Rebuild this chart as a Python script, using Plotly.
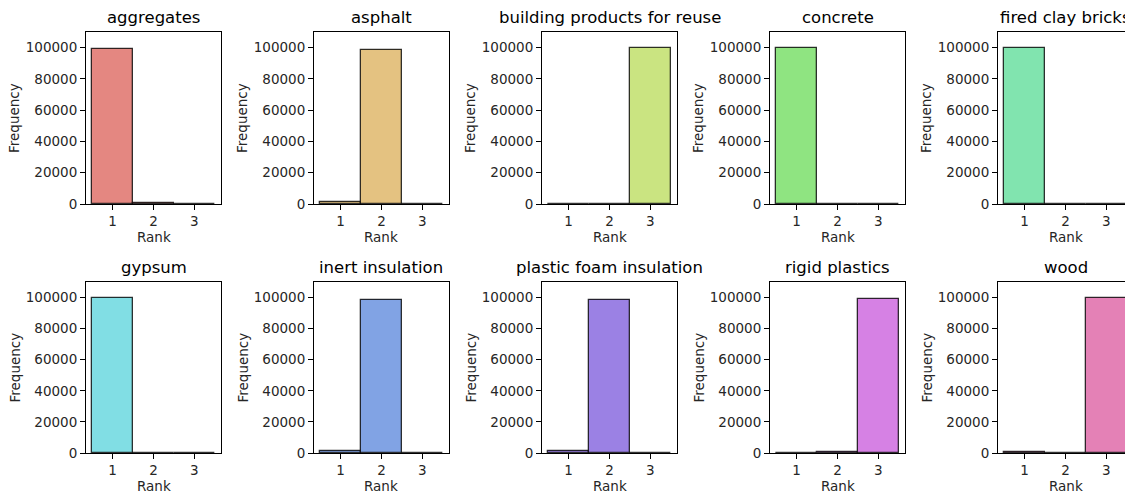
import colorsys
import plotly.graph_objects as go

# Rank frequencies (out of 100000 runs) for each material
materials = ["aggregates", "asphalt", "building products for reuse", "concrete",
             "fired clay bricks", "gypsum", "inert insulation",
             "plastic foam insulation", "rigid plastics", "wood"]
ranks = [1, 2, 3]
aggregates = [99000, 800, 200]
asphalt = [1400, 98500, 100]
building_products_for_reuse = [0, 200, 99800]
concrete = [99900, 100, 0]
fired_clay_bricks = [99900, 100, 0]
gypsum = [99800, 200, 0]
inert_insulation = [1400, 98500, 100]
plastic_foam_insulation = [1200, 98700, 100]
rigid_plastics = [300, 400, 99300]
wood = [400, 0, 99600]
frequencies = [aggregates, asphalt, building_products_for_reuse, concrete,
               fired_clay_bricks, gypsum, inert_insulation,
               plastic_foam_insulation, rigid_plastics, wood]
y_ticks = [0, 20000, 40000, 60000, 80000, 100000]

W, H = 1125, 494
FONT = "DejaVu Sans"
TXT = "#262626"


def hls_colors(n, h=0.01, l=0.6, s=0.65):
    out = []
    for i in range(n):
        hue = (i / n + h) % 1
        r, g, b = colorsys.hls_to_rgb(hue, l, s)
        out.append((r * 255, g * 255, b * 255))
    return out


def blend(rgb, alpha=0.75):
    return "rgb(%d,%d,%d)" % tuple(round(alpha * c + (1 - alpha) * 255) for c in rgb)


palette = hls_colors(len(materials))

# axes geometry in pixels
col_left = [86 + 228 * i for i in range(5)]
ax_w = 135
row_top = [32, 282]
row_bot = [204, 453]
x_unit = ax_w / 3.3

fig = go.Figure()
annotations = []
layout = {}
for k, name in enumerate(materials):
    r, c = divmod(k, 5)
    idx = "" if k == 0 else str(k + 1)
    left = col_left[c]
    right = min(left + ax_w, W)
    xmax = 0.35 + (right - left) / x_unit
    x0, x1 = left / W, right / W
    y0, y1 = 1 - row_bot[r] / H, 1 - row_top[r] / H

    fig.add_trace(go.Bar(
        x=ranks, y=frequencies[k], width=1,
        marker=dict(color=blend(palette[k]),
                    line=dict(color="rgba(0,0,0,0.8)", width=1.3)),
        xaxis="x" + idx, yaxis="y" + idx, showlegend=False,
    ))

    common = dict(showline=True, linecolor="black", linewidth=1.1,
                  ticks="outside", ticklen=5, tickwidth=1.1, tickcolor="black",
                  showgrid=False, zeroline=False,
                  tickfont=dict(family=FONT, size=13.5, color=TXT))
    layout["xaxis" + idx] = dict(common, domain=[x0, x1], anchor="y" + idx,
                                 range=[0.35, xmax], tickvals=ranks,
                                 mirror=True)
    layout["yaxis" + idx] = dict(common, domain=[y0, y1], anchor="x" + idx,
                                 range=[0, 110000], tickvals=y_ticks,
                                 tickformat="d", mirror=(c < 4))

    cx = (left + left + ax_w) / 2 / W
    annotations.append(dict(text=name, x=cx, y=y1, xref="paper", yref="paper",
                            xanchor="center", yanchor="bottom", yshift=3,
                            showarrow=False,
                            font=dict(family=FONT, size=16.5, color="black")))
    annotations.append(dict(text="Rank", x=cx, y=1 - (row_bot[r] + 33) / H,
                            xref="paper", yref="paper", xanchor="center",
                            yanchor="middle", showarrow=False,
                            font=dict(family=FONT, size=13.5, color=TXT)))
    annotations.append(dict(text="Frequency", x=(left - 72) / W,
                            y=(y0 + y1) / 2, xref="paper", yref="paper",
                            xanchor="center", yanchor="middle", textangle=-90,
                            showarrow=False,
                            font=dict(family=FONT, size=13.5, color=TXT)))

fig.update_layout(width=W, height=H, autosize=False,
                  margin=dict(l=0, r=0, t=0, b=0, autoexpand=False),
                  paper_bgcolor="white", plot_bgcolor="white",
                  bargap=0, annotations=annotations, **layout)

fig.write_html("out.html", config={"responsive": False})
